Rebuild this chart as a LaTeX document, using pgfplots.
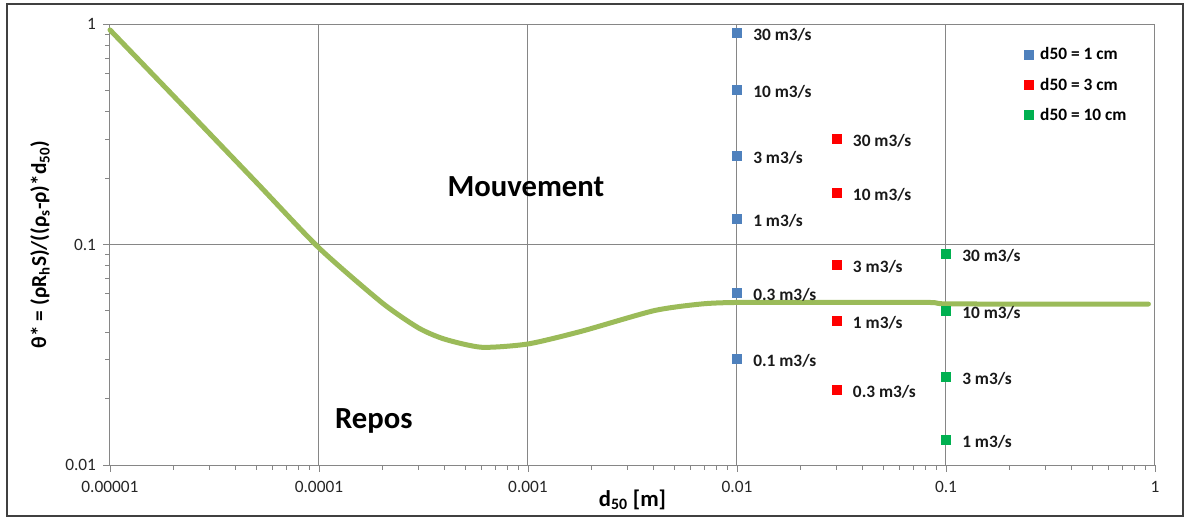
\documentclass[border=0pt]{standalone}
\usepackage{fontspec}
\setmainfont{Carlito}
\usepackage{pgfplots}
\pgfplotsset{compat=1.18}
\definecolor{curvec}{RGB}{155,187,89}
\definecolor{cblue}{RGB}{79,129,189}
\definecolor{cred}{RGB}{255,0,0}
\definecolor{cgreen}{RGB}{0,176,80}
\definecolor{gridc}{RGB}{134,134,134}
\begin{document}
\begin{tikzpicture}
\begin{axis}[
  xmode=log, ymode=log,
  scale only axis, width=783.75pt, height=330.75pt,
  xmin=1e-5, xmax=1, ymin=0.01, ymax=1,
  xtick={1e-5,1e-4,1e-3,1e-2,1e-1,1},
  xticklabels={0.00001,0.0001,0.001,0.01,0.1,1},
  ytick={0.01,0.1,1}, yticklabels={0.01,0.1,1},
  /pgf/number format/assume math mode=true,
  tick label style={font=\fontsize{13}{15}\selectfont, text=black!85},
  xticklabel style={yshift=-4pt},
  yticklabel style={xshift=-2pt},
  tick pos=left, tick align=outside,
  major tick length=5pt, minor tick length=3.5pt,
  grid=major,
  major grid style={gridc, line width=0.75pt},
  axis line style={gridc, line width=0.75pt},
  every tick/.style={gridc, line width=0.6pt},
  clip=false,
  xlabel={\textbf{d\textsubscript{50} [m]}},
  ylabel={\textbf{θ* = (ρR\textsubscript{h}S)/((ρ\textsubscript{s}-ρ)*d\textsubscript{50})}},
  every axis x label/.style={at={(axis description cs:0.5,-0.0794)}, anchor=center, font=\fontsize{17}{20}\selectfont},
  every axis y label/.style={at={(axis description cs:-0.067,0.5)}, rotate=90, anchor=center, font=\fontsize{16}{19}\selectfont},
  legend style={at={(0.8742,0.8617)}, anchor=west, draw=none, fill=none,
    font=\fontsize{13}{15}\selectfont\bfseries, row sep=9pt, column sep=4pt, inner sep=0pt,
    nodes={inner sep=1.5pt}},
  legend cell align=left,
  legend image code/.code={\draw[#1] plot coordinates {(0cm,0cm)};},
  datalabel/.style={nodes near coords, point meta=explicit symbolic,
    every node near coord/.style={anchor=west, xshift=12pt, yshift=-1.5pt, inner sep=0pt,
      text=black!90, font=\fontsize{13}{15}\selectfont\bfseries}},
]
% outer frame
\draw[black!75, line width=0.9pt] ([xshift=-77.25pt,yshift=-38.25pt]rel axis cs:0,0) rectangle ([xshift=21pt,yshift=15pt]rel axis cs:1,1);
\path ([xshift=-82.5pt,yshift=-40.5pt]rel axis cs:0,0) rectangle ([xshift=22.5pt,yshift=18pt]rel axis cs:1,1);

\addplot[curvec, line width=3.75pt, line cap=round, smooth, tension=0.4, forget plot] coordinates {
(0.00001,0.94) (0.00002,0.475) (0.00005,0.192) (0.0001,0.0965) (0.0002,0.0545)
(0.0003,0.0418) (0.0004,0.0372) (0.0006,0.0342) (0.001,0.0354) (0.0018,0.0404)
(0.004,0.0501) (0.0067,0.0537) (0.01,0.0546) (0.03,0.0546) (0.083,0.0546)
(0.1,0.0538) (0.3,0.0537) (0.93,0.0537)
};

\addplot[only marks, mark=square*, mark size=3.4pt, color=cblue, datalabel] coordinates {
(0.01,0.913) [30 m3/s]
(0.01,0.505) [10 m3/s]
(0.01,0.252) [3 m3/s]
(0.01,0.131) [1 m3/s]
(0.01,0.0607) [0.3 m3/s]
(0.01,0.0302) [0.1 m3/s]
};
\addlegendentry{d50 = 1 cm}

\addplot[only marks, mark=square*, mark size=3.4pt, color=cred, datalabel] coordinates {
(0.03,0.302) [30 m3/s]
(0.03,0.171) [10 m3/s]
(0.03,0.0809) [3 m3/s]
(0.03,0.0451) [1 m3/s]
(0.03,0.0219) [0.3 m3/s]
};
\addlegendentry{d50 = 3 cm}

\addplot[only marks, mark=square*, mark size=3.4pt, color=cgreen, datalabel] coordinates {
(0.1,0.0907) [30 m3/s]
(0.1,0.0501) [10 m3/s]
(0.1,0.0251) [3 m3/s]
(0.1,0.0130) [1 m3/s]
};
\addlegendentry{d50 = 10 cm}

\node[font=\fontsize{23}{27}\selectfont\bfseries] at (axis cs:0.000977,0.1836) {Mouvement};
\node[font=\fontsize{23}{27}\selectfont\bfseries] at (axis cs:0.000183,0.0158) {Repos};
\end{axis}
\end{tikzpicture}
\end{document}
